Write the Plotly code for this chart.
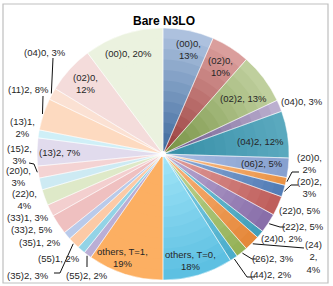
import math
import numpy as np
import plotly.graph_objects as go

# ---------------- data ----------------
t0_names = ["(00)0", "(02)0", "(02)2", "(04)0", "(04)2", "(06)2", "(20)0", "(20)2",
            "(22)0", "(22)2", "(24)0", "(24)2", "(26)2", "(44)2", "others, T=0"]
t0_pct = [13, 10, 13, 3, 12, 5, 2, 3, 5, 5, 2, 4, 3, 2, 18]

# T=1 half, listed clockwise from 6 o'clock
t1_names = ["others, T=1", "(55)2", "(55)1", "(35)2", "(35)1", "(33)2", "(33)1", "(22)0",
            "(20)0", "(15)2", "(13)2", "(13)1", "(11)2", "(04)0", "(02)0", "(00)0"]
t1_pct = [19, 2, 2, 3, 2, 5, 3, 4, 3, 3, 7, 2, 8, 3, 12, 20]

title_text = "Bare N3LO"

# ---------------- styles ----------------
t0_light = ["#B4C7E2", "#E3ABA9", "#D5E2B9", "#C9BEDB", "#8ACBDD", "#A9BDE2", "#FBC08F", "#8FADD9",
            "#E3A3A1", "#BCACD3", "#88CDE0", "#FAB680", "#C4D89A", "#8AD3E8", "#A3E6F8"]
t0_dark = ["#2E5E94", "#8E2F2D", "#6A8734", "#5A447A", "#22809A", "#6685BF", "#E5852E", "#3F6DAA",
           "#B24542", "#7A5C9D", "#3296B2", "#E07E2A", "#8BAA4A", "#3FA6C6", "#4FB8DE"]
t1_colors = ["#FCAF62", "#BAAED5", "#93D3E6", "#FCCAA6", "#B9CAEA", "#EFC0C0", "#F3CFCF", "#DEE9C8",
             "#CDEAF3", "#F4D3D3", "#E1DBED", "#CFEFF7", "#FDDAC0", "#FBE1D3", "#F4DCDB", "#EBF2DF"]

W, H = 333, 286
CX, CY, R = 163, 154, 126
FONT = "Liberation Sans, Arial, sans-serif"

# label layout (pixel centres) and wrapping style
t0_text_pos = [(188, 49), (220, 66), (243, 98), (302, 101), (260, 141), (262, 163), (309, 163),
               (309, 188), (300, 210), (303, 226), (282, 238), (313, 257), (273, 258), (271, 274), (191, 260)]
t0_wrap = [1, 1, 0, 0, 0, 0, 1, 1, 0, 0, 0, 2, 0, 0, 1]
t1_text_pos = [(122, 257), (87, 275), (59, 258), (28, 275), (40, 242), (32, 229), (28, 217), (24, 199),
               (18, 176), (19, 154), (60, 152), (22, 127), (29, 89), (45, 52), (85, 83), (128, 53)]
t1_wrap = [1, 0, 0, 0, 0, 0, 0, 1, 1, 1, 0, 1, 0, 0, 1, 0]

# leader lines: label-side points (slice side computed from angle)
t0_leaders = {6: [(292, 172), (299, 172)], 7: [(291, 185), (298, 185)], 9: [(280, 227), (285, 227)],
              11: [(304, 248)], 12: [(252, 259), (257, 259)], 13: [(247, 277), (255, 277)]}
t1_leaders = {1: [(87, 267)], 3: [(60, 273), (54, 273)], 9: [(34, 164), (29, 163)],
              12: [(43, 96)], 13: [(53, 58)]}

# ---------------- derived ----------------
vals = [p / sum(t0_pct) for p in t0_pct] + [p / sum(t1_pct) for p in t1_pct]
ids = ["T0 " + n for n in t0_names] + ["T1 " + n for n in t1_names]
cum = np.cumsum([0] + vals) * 180.0
starts, ends = cum[:-1], cum[1:]
mids = (starts + ends) / 2
n0 = len(t0_names)


def hex2rgb(h):
    h = h.lstrip("#")
    return [int(h[i:i + 2], 16) for i in (0, 2, 4)]


def mix(c1, c2, t):
    a, b = hex2rgb(c1), hex2rgb(c2)
    return "rgb(%d,%d,%d)" % tuple(round(a[i] + (b[i] - a[i]) * t) for i in range(3))


def px(x, y):
    return x / W, 1 - y / H


fig = go.Figure()

N = 12
for k in range(N):
    r_out = R * (N - k) / N
    r_rep = R * (N - k - 0.5) / N
    cols = []
    for i in range(n0):
        a0, a1 = math.radians(starts[i]), math.radians(ends[i])
        ys = [CY, CY - R * math.cos(a0), CY - R * math.cos(a1)]
        if starts[i] <= 0.0001:
            ys.append(CY - R)
        if ends[i] >= 179.999:
            ys.append(CY + R)
        ymin, ymax = min(ys), max(ys)
        y = CY - r_rep * math.cos(math.radians(mids[i]))
        t = min(max((y - ymin) / (ymax - ymin), 0), 1)
        cols.append(mix(t0_light[i], t0_dark[i], t * 0.9))
    cols += t1_colors
    fig.add_trace(go.Pie(
        values=vals, labels=ids, sort=False, direction="clockwise", rotation=0,
        marker=dict(colors=cols, line=dict(width=0)), textinfo="none", hoverinfo="skip",
        showlegend=False,
        domain=dict(x=[(CX - r_out) / W, (CX + r_out) / W],
                    y=[(H - CY - r_out) / H, (H - CY + r_out) / H])))

# separator overlay
fig.add_trace(go.Pie(
    values=vals, labels=ids, sort=False, direction="clockwise", rotation=0,
    marker=dict(colors=["rgba(0,0,0,0)"] * len(vals),
                line=dict(width=0.7, color="rgba(255,255,255,0.65)")),
    textinfo="none", hoverinfo="skip", showlegend=False,
    domain=dict(x=[(CX - R) / W, (CX + R) / W], y=[(H - CY - R) / H, (H - CY + R) / H])))


def fmt(name, pct, wrap):
    if wrap == 0:
        return f"{name}, {pct}%"
    if wrap == 1:
        return f"{name},<br>{pct}%"
    a, b = name[:4], name[4:]
    return f"{a}<br>{b},<br>{pct}%"


annotations = []
shapes = []
all_pos = t0_text_pos + t1_text_pos
all_wrap = t0_wrap + t1_wrap
all_names = t0_names + t1_names
all_pct = t0_pct + t1_pct
for i in range(len(all_names)):
    x, y = px(*all_pos[i])
    annotations.append(dict(text=fmt(all_names[i], all_pct[i], all_wrap[i]), x=x, y=y,
                            xref="paper", yref="paper", xanchor="center", yanchor="middle",
                            showarrow=False, font=dict(family=FONT, size=9.5, color="#262626")))

leaders = dict(t0_leaders)
for k, v in t1_leaders.items():
    leaders[n0 + k] = v
for i, pts in leaders.items():
    a = math.radians(mids[i])
    ex, ey = CX + (R + 1) * math.sin(a), CY - (R + 1) * math.cos(a)
    path_pts = [(ex, ey)] + pts
    d = ""
    for j, (xx, yy) in enumerate(path_pts):
        xp, yp = px(xx, yy)
        d += ("M" if j == 0 else " L") + f" {xp:.5f} {yp:.5f}"
    shapes.append(dict(type="path", path=d, xref="paper", yref="paper",
                       line=dict(color="#111111", width=1)))

# centre glow
cx0, cy0 = px(CX - 3, CY - 3)
cx1, cy1 = px(CX + 3, CY + 3)
shapes.append(dict(type="circle", xref="paper", yref="paper", x0=cx0, y0=cy0, x1=cx1, y1=cy1,
                   fillcolor="white", line=dict(width=0)))
# chart frame
fx0, fy0 = px(3, 4)
fx1, fy1 = px(328, 283)
shapes.append(dict(type="rect", xref="paper", yref="paper", x0=fx0, y0=fy0, x1=fx1, y1=fy1,
                   line=dict(color="#BFBFBF", width=1.2)))

tx, ty = px(164, 21)
annotations.append(dict(text=f"<b>{title_text}</b>", x=tx, y=ty, xref="paper", yref="paper",
                        xanchor="center", yanchor="middle", showarrow=False,
                        font=dict(family=FONT, size=12, color="#000000")))

fig.update_layout(width=W, height=H, margin=dict(l=0, r=0, t=0, b=0),
                  paper_bgcolor="white", plot_bgcolor="white",
                  annotations=annotations, shapes=shapes, showlegend=False)

fig.write_html("out.html", config={"displayModeBar": False},
               post_script="document.body.style.margin='0';document.body.style.padding='0';"
                           "document.documentElement.style.overflow='hidden';")
